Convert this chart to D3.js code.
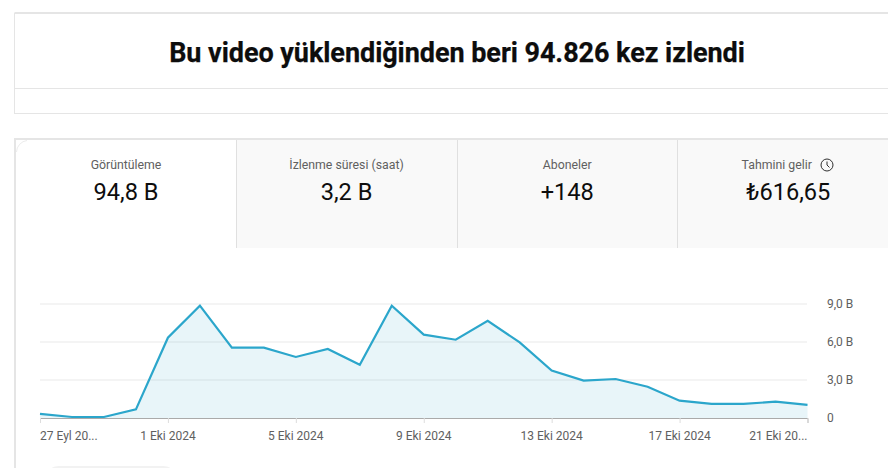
<!DOCTYPE html>
<html lang="tr">
<head>
<meta charset="UTF-8">
<title>Görüntüleme</title>
<script src="https://d3js.org/d3.v7.min.js"></script>
<style>
  html, body { margin: 0; padding: 0; background: #fff; overflow: hidden; }
  svg { display: block; font-family: Roboto, sans-serif; }
  .tick text { font-family: Roboto, sans-serif; font-size: 12px; fill: #606060; }
</style>
</head>
<body>
<svg id="chart" width="888" height="468"></svg>
<script>
// values, in thousands ("B")
const days = ["27 Eyl 2024","28 Eyl 2024","29 Eyl 2024","30 Eyl 2024","1 Eki 2024","2 Eki 2024","3 Eki 2024","4 Eki 2024","5 Eki 2024",
  "6 Eki 2024","7 Eki 2024","8 Eki 2024","9 Eki 2024","10 Eki 2024","11 Eki 2024","12 Eki 2024","13 Eki 2024","14 Eki 2024",
  "15 Eki 2024","16 Eki 2024","17 Eki 2024","18 Eki 2024","19 Eki 2024","20 Eki 2024","21 Eki 2024"];
const views = [0.32,0.08,0.08,0.68,6.34,8.87,5.55,5.55,4.82,5.45,4.21,8.87,6.58,6.18,7.68,5.97,3.74,2.95,3.08,2.47,1.37,1.11,1.11,1.29,1.03];
const xTicks = ["27 Eyl 2024","1 Eki 2024","5 Eki 2024","9 Eki 2024","13 Eki 2024","17 Eki 2024","21 Eki 2024"];
const xTickLabels = ["27 Eyl 20...","1 Eki 2024","5 Eki 2024","9 Eki 2024","13 Eki 2024","17 Eki 2024","21 Eki 20..."];
const yTicks = [0,3,6,9];
const yTickLabels = ["0","3,0 B","6,0 B","9,0 B"];

const tabNames = ["Görüntüleme","İzlenme süresi (saat)","Aboneler","Tahmini gelir"];
const tabValues = ["94,8 B","3,2 B","+148","₺616,65"];
const tabEdges = [16,236.5,457.5,677.5,888];
const nameCentres = [126,346.5,567.3,776.7];
const valueCentres = [126,346.5,567.3,788.3];

const svg = d3.select("#chart");
const border = "#e5e5e5";

// title box
svg.append("rect").attr("x",14.5).attr("y",13).attr("width",900).attr("height",100.5)
  .attr("fill","#fff").attr("stroke",border);
svg.append("line").attr("x1",15).attr("x2",888).attr("y1",13).attr("y2",13).attr("stroke",border).attr("stroke-width",2);
svg.append("line").attr("x1",15).attr("x2",888).attr("y1",88.5).attr("y2",88.5).attr("stroke",border);
svg.append("text").attr("x",457).attr("y",62).attr("text-anchor","middle")
  .attr("font-size",27).attr("font-weight",700).attr("letter-spacing",-0.05).attr("fill","#0d0d0d")
  .attr("stroke","#0d0d0d").attr("stroke-width",0.25)
  .text("Bu video yüklendiğinden beri 94.826 kez izlendi");

// tabs: square outer border, faint rounded corner inside it
svg.append("rect").attr("x",15).attr("y",139).attr("width",900).attr("height",400)
  .attr("fill","#fff").attr("stroke",border).attr("stroke-width",2);
svg.append("path").attr("d","M16.5,152A12,12 0 0 1 27,140.5").attr("fill","none").attr("stroke","#ececec");
const tabs = svg.append("g");
tabNames.forEach((name,i) => {
  if (i > 0) {
    tabs.append("rect").attr("x",tabEdges[i]).attr("y",140).attr("width",tabEdges[i+1]-tabEdges[i]).attr("height",108).attr("fill","#f9f9f9");
    tabs.append("line").attr("x1",tabEdges[i]).attr("x2",tabEdges[i]).attr("y1",140).attr("y2",248).attr("stroke","#e0e0e0");
  }
  tabs.append("text").attr("x",nameCentres[i]).attr("y",169).attr("text-anchor","middle")
    .attr("font-size",12.3).attr("fill","#606060").text(name);
  tabs.append("text").attr("x",valueCentres[i]).attr("y",200).attr("text-anchor","middle")
    .attr("font-size",23.6).attr("fill","#0d0d0d").text(tabValues[i]);
});
// clock icon next to the last tab label
const clock = svg.append("g").attr("transform","translate(827,165)").attr("fill","none").attr("stroke","#303030");
clock.append("circle").attr("r",6);
clock.append("path").attr("d","M0,-3.5V0L2.5,2.5");

// chart
const x = d3.scalePoint().domain(days).range([40,807.5]);
const y = d3.scaleLinear().domain([0,9]).range([418,304]);

svg.append("g").selectAll("line").data(yTicks.slice(1)).join("line")
  .attr("x1",40).attr("x2",807).attr("y1",d=>y(d)).attr("y2",d=>y(d))
  .attr("stroke","#f0f0f0").attr("stroke-width",1.5);

svg.append("path").datum(views).attr("fill","#2ba6cb").attr("fill-opacity",0.11)
  .attr("d",d3.area().x((d,i)=>x(days[i])).y0(y(0)).y1(d=>y(d)));
svg.append("path").datum(views).attr("fill","none").attr("stroke","#2ba6cb").attr("stroke-width",2.2)
  .attr("d",d3.line().x((d,i)=>x(days[i])).y(d=>y(d)));

const xAxis = svg.append("g").attr("transform","translate(0,418)")
  .call(d3.axisBottom(x).tickValues(xTicks).tickSize(5).tickPadding(6)
    .tickFormat(d=>xTickLabels[xTicks.indexOf(d)]));
xAxis.select(".domain").attr("stroke","#aaa").attr("stroke-width",1);
xAxis.selectAll(".tick line").attr("stroke","#ddd");
xAxis.selectAll(".tick text").attr("dy","0.9em").attr("dx",-0.5);
xAxis.selectAll(".tick text").filter((d,i)=>i===0).attr("text-anchor","start");
xAxis.selectAll(".tick text").filter((d,i)=>i===xTicks.length-1).attr("text-anchor","end");

const yAxis = svg.append("g").attr("transform","translate(827,0)")
  .call(d3.axisRight(y).tickValues(yTicks).tickSize(0).tickPadding(0)
    .tickFormat(d=>yTickLabels[yTicks.indexOf(d)]));
yAxis.select(".domain").remove();

// bottom pill, cut by the screenshot
svg.append("rect").attr("x",44).attr("y",466).attr("width",134).attr("height",30).attr("rx",15)
  .attr("fill","#f2f2f2");
</script>
</body>
</html>
